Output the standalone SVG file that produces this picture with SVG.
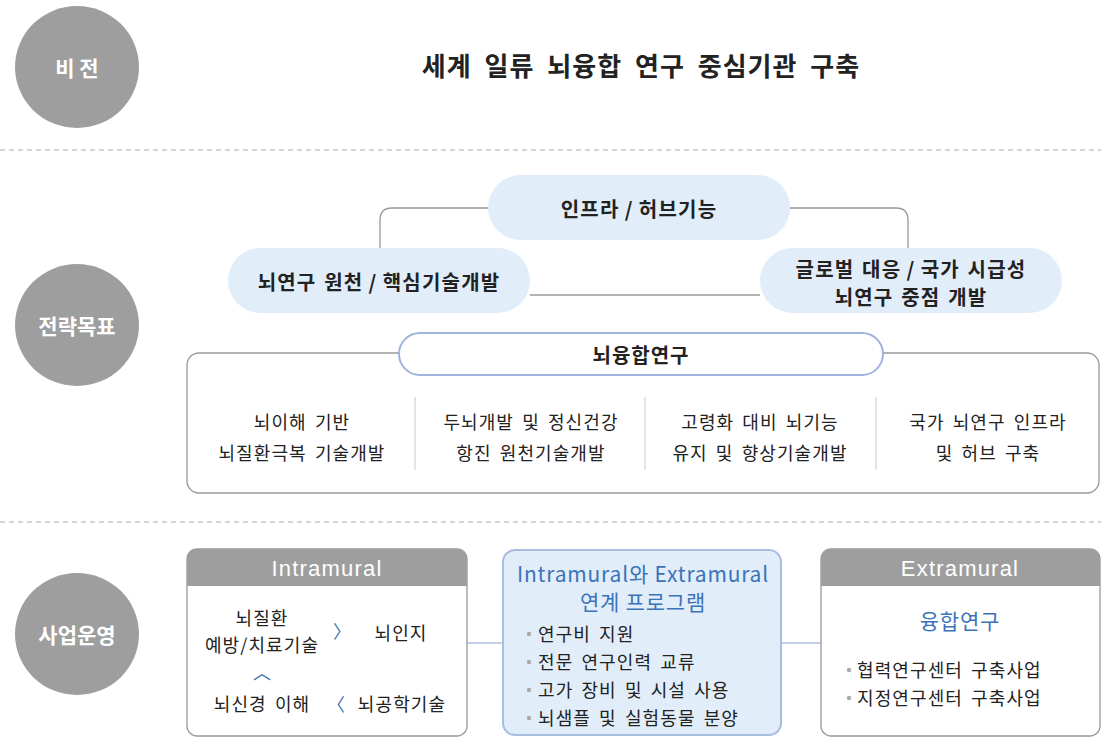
<svg xmlns="http://www.w3.org/2000/svg" width="1101" height="737" viewBox="0 0 1101 737">
<style>
text{font-family:"Noto Sans CJK KR","Noto Sans",sans-serif;text-anchor:middle;dominant-baseline:central;fill:#222}
.circ{fill:#9e9e9e}
.ctext{fill:#fff;font-weight:bold;font-size:21px}
.dash{stroke:#aaa;stroke-width:1;stroke-dasharray:5 4}
.pill{fill:#e1edf9}
.ptext{font-weight:bold;font-size:20px;letter-spacing:1.2px;word-spacing:2px}
.conn{fill:none;stroke:#999;stroke-width:1.3}
.conn2{fill:none;stroke:#aebde0;stroke-width:1.5}
.body{font-size:18px;letter-spacing:1.1px;word-spacing:3px}
.sep{stroke:#ddd;stroke-width:1.5}
.box{fill:#fff;stroke:#999;stroke-width:1.3}
.hdr{fill:#9e9e9e}
.htext{fill:#fff;font-size:22px;letter-spacing:1.2px;font-family:"Liberation Sans",Arial,sans-serif}
.blue{fill:#3b73b9;font-size:21px;letter-spacing:0.8px}
.chev{fill:#3b73b9;font-size:18px}
.bullet{fill:#aaa}
.lt{text-anchor:start}
</style>
<g id="dividers">
<line class="dash" x1="0" y1="150" x2="1101" y2="150"/>
<line class="dash" x1="0" y1="522" x2="1101" y2="522"/>
</g>
<g id="vision-label">
<ellipse class="circ" cx="77" cy="67" rx="62" ry="61"/>
<text class="ctext" x="77" y="67">비 전</text>
</g>
<g id="vision">
<text x="641" y="64" style="font-weight:bold;font-size:26px;letter-spacing:1px;word-spacing:6px">세계 일류 뇌융합 연구 중심기관 구축</text>
</g>
<g id="strategy-label">
<ellipse class="circ" cx="77" cy="325" rx="62" ry="61"/>
<text class="ctext" x="77" y="325">전략목표</text>
</g>
<g id="connectors">
<path class="conn" d="M488 208 H392 Q380 208 380 220 V248"/>
<path class="conn" d="M790 208 H896 Q908 208 908 220 V248"/>
<path class="conn" d="M530 295 H760"/>
<path class="conn2" d="M467 643 H503"/>
<path class="conn2" d="M781 643 H821"/>
</g>
<g id="infra">
<rect class="pill" x="488" y="175" width="302" height="65" rx="32.5"/>
<text class="ptext" x="639" y="208">인프라&#8201;/&#8201;허브기능</text>
</g>
<g id="source">
<rect class="pill" x="228" y="248" width="302" height="65" rx="32.5"/>
<text class="ptext" x="379" y="281">뇌연구 원천&#8201;/&#8201;핵심기술개발</text>
</g>
<g id="global">
<rect class="pill" x="760" y="248" width="302" height="65" rx="32.5"/>
<text class="ptext" x="911" y="268">글로벌 대응&#8201;/&#8201;국가 시급성</text>
<text class="ptext" x="911" y="296">뇌연구 중점 개발</text>
</g>
<g id="convergence">
<rect class="box" x="187" y="353" width="912" height="140" rx="12"/>
<rect x="399" y="333" width="484" height="42" rx="21" fill="#fff" stroke="#9fb3de" stroke-width="2"/>
<text x="641" y="354" style="font-weight:bold;font-size:20px;letter-spacing:1px">뇌융합연구</text>
<line class="sep" x1="415" y1="397" x2="415" y2="470"/>
<line class="sep" x1="645" y1="397" x2="645" y2="470"/>
<line class="sep" x1="876" y1="397" x2="876" y2="470"/>
<text class="body" x="302" y="421">뇌이해 기반</text>
<text class="body" x="302" y="452">뇌질환극복 기술개발</text>
<text class="body" x="531" y="421">두뇌개발 및 정신건강</text>
<text class="body" x="531" y="452">항진 원천기술개발</text>
<text class="body" x="760" y="421">고령화 대비 뇌기능</text>
<text class="body" x="760" y="452">유지 및 향상기술개발</text>
<text class="body" x="988" y="421">국가 뇌연구 인프라</text>
<text class="body" x="988" y="452">및 허브 구축</text>
</g>
<g id="operation-label">
<ellipse class="circ" cx="77" cy="634" rx="62" ry="61"/>
<text class="ctext" x="77" y="634">사업운영</text>
</g>
<g id="intramural">
<rect class="box" x="187" y="549" width="280" height="187" rx="10"/>
<path class="hdr" d="M187 586 V559 Q187 549 197 549 H457 Q467 549 467 559 V586 Z"/>
<text class="htext" x="327" y="568">Intramural</text>
<text class="body" x="262" y="617">뇌질환</text>
<text class="body" x="262" y="644">예방/치료기술</text>
<text class="chev" x="342" y="630">〉</text>
<text class="body" x="401" y="632">뇌인지</text>
<text class="chev" x="262" y="671">︿</text>
<text class="body" x="262" y="703">뇌신경 이해</text>
<text class="chev" x="336" y="703">〈</text>
<text class="body" x="402" y="703">뇌공학기술</text>
</g>
<g id="linkage">
<rect x="503" y="550" width="278" height="185" rx="12" fill="#e1edf9" stroke="#a9bde2" stroke-width="2"/>
<text class="blue" x="643" y="573">Intramural와 Extramural</text>
<text class="blue" x="643" y="601">연계 프로그램</text>
<circle class="bullet" cx="529" cy="634" r="2.2"/>
<circle class="bullet" cx="529" cy="662" r="2.2"/>
<circle class="bullet" cx="529" cy="690" r="2.2"/>
<circle class="bullet" cx="529" cy="718" r="2.2"/>
<text class="body lt" x="538" y="633">연구비 지원</text>
<text class="body lt" x="538" y="661">전문 연구인력 교류</text>
<text class="body lt" x="538" y="689">고가 장비 및 시설 사용</text>
<text class="body lt" x="538" y="717">뇌샘플 및 실험동물 분양</text>
</g>
<g id="extramural">
<rect class="box" x="821" y="549" width="279" height="187" rx="10"/>
<path class="hdr" d="M821 586 V559 Q821 549 831 549 H1090 Q1100 549 1100 559 V586 Z"/>
<text class="htext" x="960" y="568">Extramural</text>
<text class="blue" x="960" y="620">융합연구</text>
<circle class="bullet" cx="849" cy="670" r="2.2"/>
<circle class="bullet" cx="849" cy="698" r="2.2"/>
<text class="body lt" x="857" y="669">협력연구센터 구축사업</text>
<text class="body lt" x="857" y="697">지정연구센터 구축사업</text>
</g>
</svg>
